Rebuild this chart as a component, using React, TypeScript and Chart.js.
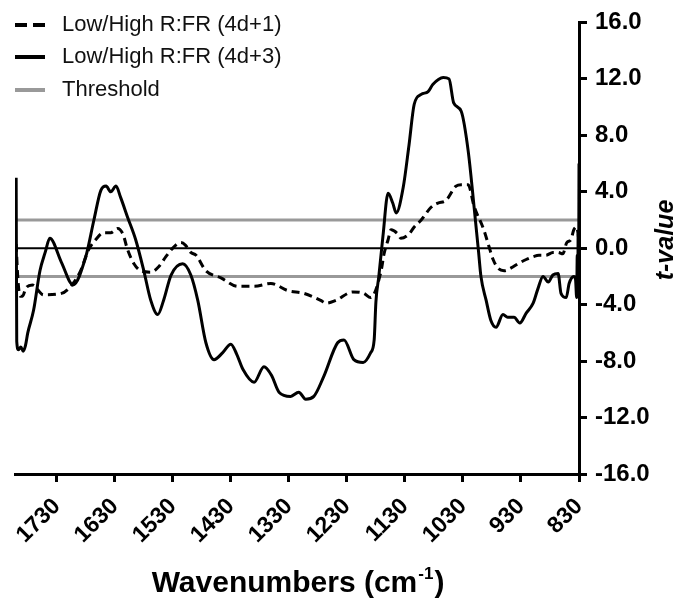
import React, { useEffect, useRef } from "react";
import { Chart, registerables } from "chart.js";

Chart.register(...registerables);

// ---- Data ----
const xTickValues = [1730, 1630, 1530, 1430, 1330, 1230, 1130, 1030, 930, 830];
const yTickValues = [-16, -12, -8, -4, 0, 4, 8, 12, 16];
const thresholdValue = 2;

const legendLabels = ["Low/High R:FR (4d+1)", "Low/High R:FR (4d+3)", "Threshold"];

// Low/High R:FR (4d+3) – solid
const wavenumbers4d3 = [
  1800, 1799, 1796, 1792, 1788, 1784, 1780, 1770, 1759, 1750,
  1742, 1722, 1702, 1680, 1666, 1654, 1645, 1637, 1628, 1620,
  1608, 1594, 1580, 1568, 1556, 1546, 1533, 1513, 1499, 1487,
  1473, 1459, 1444, 1430, 1420, 1409, 1390, 1373, 1360, 1347,
  1327, 1313, 1301, 1287, 1270, 1246, 1235, 1218, 1202, 1189,
  1183, 1180, 1175, 1168, 1159, 1151, 1145, 1133, 1123, 1114,
  1102, 1090, 1082, 1064, 1054, 1046, 1033, 1021, 1011, 1003,
  999, 990, 982, 973, 961, 953, 942, 932, 921, 909,
  901, 892, 883, 875, 866, 861, 852, 847, 839, 836,
  834, 833, 832, 831.5, 831, 830.5, 830,
];
const tValues4d3 = [
  5.0, -6.6, -7.2, -7.0, -7.3, -6.9, -6.0, -4.4, -1.6, -0.3,
  0.7, -1.0, -2.6, -0.6, 2.0, 4.1, 4.4, 4.0, 4.4, 3.6,
  2.2, 0.6, -1.6, -3.7, -4.7, -3.7, -1.9, -1.1, -1.9, -3.7,
  -6.7, -7.9, -7.4, -6.8, -7.5, -8.6, -9.5, -8.4, -9.0, -10.2,
  -10.5, -10.2, -10.7, -10.5, -9.1, -6.7, -6.5, -7.9, -8.1, -7.4,
  -6.5, -3.8, -2.0, 0.8, 3.9, 3.2, 2.5, 4.3, 7.3, 10.2,
  10.9, 11.1, 11.6, 12.1, 12.0, 10.3, 9.7, 6.9, 3.0, -0.3,
  -2.0, -3.7, -5.1, -5.6, -4.7, -4.9, -4.9, -5.3, -4.6, -3.9,
  -2.9, -2.0, -2.4, -1.9, -1.8, -3.2, -3.5, -2.5, -2.0, -2.2,
  -3.5, -0.5, -3.0, 1.0, -2.8, -1.0, 6.0,
];

// Low/High R:FR (4d+1) – dashed
const wavenumbers4d1 = [
  1800, 1797, 1793, 1789, 1783, 1772, 1753, 1722, 1702, 1689,
  1675, 1663, 1649, 1637, 1625, 1616, 1608, 1597, 1585, 1568,
  1554, 1542, 1528, 1516, 1508, 1499, 1490, 1473, 1447, 1418,
  1390, 1361, 1332, 1304, 1275, 1266, 1249, 1220, 1201, 1189,
  1171, 1166, 1159, 1154, 1142, 1137, 1123, 1114, 1102, 1085,
  1073, 1059, 1042, 1033, 1021, 1011, 994, 985, 978, 970,
  959, 947, 935, 921, 909, 899, 887, 875, 866, 858,
  851, 844, 839, 834, 830,
];
const tValues4d1 = [
  0.3, -2.2, -3.4, -3.4, -2.8, -2.6, -3.3, -3.2, -2.5, -1.6,
  -0.1, 0.6, 1.1, 1.1, 1.4, 1.0, -0.1, -1.1, -1.6, -1.7,
  -1.3, -0.6, 0.1, 0.4, 0.2, -0.3, -0.5, -1.6, -2.1, -2.7,
  -2.7, -2.5, -3.0, -3.2, -3.7, -3.9, -3.7, -3.1, -3.2, -3.5,
  -1.6, -0.4, 0.6, 1.3, 1.0, 0.7, 1.0, 1.5, 2.0, 2.9,
  3.2, 3.4, 4.4, 4.5, 4.5, 3.0, 1.3, 0.1, -0.8, -1.4,
  -1.6, -1.4, -1.1, -0.8, -0.6, -0.5, -0.5, -0.3, -0.3, -0.4,
  0.4, 0.6, 1.3, 1.5, 0.5,
];

const X_MIN = 830;
const X_MAX = 1802;

const FONT = '"Liberation Sans", Arial, Helvetica, sans-serif';

const zip = (xs: number[], ys: number[]) => xs.map((x, i) => ({ x, y: ys[i] }));

const legendPlugin = {
  id: "customLegend",
  afterDraw(chart: any) {
    const ctx = chart.ctx as CanvasRenderingContext2D;
    ctx.save();
    const rows = [
      { y: 25, color: "#000", dash: [12, 6] },
      { y: 57, color: "#000", dash: [] },
      { y: 90, color: "#999", dash: [] },
    ];
    rows.forEach((r, i) => {
      ctx.beginPath();
      ctx.setLineDash(r.dash);
      ctx.lineWidth = 4;
      ctx.strokeStyle = r.color;
      ctx.moveTo(15, r.y);
      ctx.lineTo(45, r.y);
      ctx.stroke();
      ctx.setLineDash([]);
      ctx.fillStyle = "#111";
      ctx.font = `22px ${FONT}`;
      ctx.textAlign = "left";
      ctx.textBaseline = "middle";
      ctx.fillText(legendLabels[i], 62, r.y);
    });

    // x-axis title with superscript
    const main = "Wavenumbers (cm";
    const sup = "-1";
    const close = ")";
    const mainFont = `bold 30px ${FONT}`;
    const supFont = `bold 17px ${FONT}`;
    ctx.textBaseline = "alphabetic";
    ctx.font = mainFont;
    const w1 = ctx.measureText(main).width;
    const w3 = ctx.measureText(close).width;
    ctx.font = supFont;
    const w2 = ctx.measureText(sup).width;
    const total = w1 + w2 + w3 + 2;
    let sx = 298 - total / 2;
    const base = 592;
    ctx.fillStyle = "#000";
    ctx.font = mainFont;
    ctx.fillText(main, sx, base);
    sx += w1 + 1;
    ctx.font = supFont;
    ctx.fillText(sup, sx, base - 13);
    sx += w2 + 1;
    ctx.font = mainFont;
    ctx.fillText(close, sx, base);

    // y-axis title
    ctx.translate(673, 240);
    ctx.rotate(-Math.PI / 2);
    ctx.font = `italic bold 25px ${FONT}`;
    ctx.textAlign = "center";
    ctx.fillText("t-value", 0, 0);
    ctx.restore();
  },
};

export default function App() {
  const canvasRef = useRef<HTMLCanvasElement | null>(null);

  useEffect(() => {
    const canvas = canvasRef.current;
    if (!canvas) return;
    const chart = new Chart(canvas, {
      type: "line",
      data: {
        datasets: [
          {
            label: legendLabels[1],
            data: zip(wavenumbers4d3, tValues4d3),
            borderColor: "#000",
            borderWidth: 3,
            pointRadius: 0,
            cubicInterpolationMode: "monotone",
            fill: false,
          },
          {
            label: legendLabels[0],
            data: zip(wavenumbers4d1, tValues4d1),
            borderColor: "#000",
            borderWidth: 3,
            borderDash: [8, 5],
            pointRadius: 0,
            cubicInterpolationMode: "monotone",
            fill: false,
          },
          {
            label: "zero",
            data: [
              { x: X_MAX, y: 0 },
              { x: X_MIN, y: 0 },
            ],
            borderColor: "#000",
            borderWidth: 2,
            pointRadius: 0,
          },
          {
            label: legendLabels[2],
            data: [
              { x: X_MAX, y: thresholdValue },
              { x: X_MIN, y: thresholdValue },
            ],
            borderColor: "#999",
            borderWidth: 3,
            pointRadius: 0,
          },
          {
            label: legendLabels[2] + " low",
            data: [
              { x: X_MAX, y: -thresholdValue },
              { x: X_MIN, y: -thresholdValue },
            ],
            borderColor: "#999",
            borderWidth: 3,
            pointRadius: 0,
          },
        ],
      },
      options: {
        responsive: false,
        animation: false,
        layout: { padding: { left: 15, top: 22, right: 0, bottom: 0 } },
        plugins: {
          legend: { display: false },
          tooltip: { enabled: false },
          title: { display: false },
        },
        scales: {
          x: {
            type: "linear",
            reverse: true,
            min: X_MIN,
            max: X_MAX,
            position: "bottom",
            afterBuildTicks: (s: any) => {
              s.ticks = xTickValues.map((v) => ({ value: v }));
            },
            afterFit: (s: any) => {
              s.height = 126;
            },
            ticks: {
              autoSkip: false,
              minRotation: 45,
              maxRotation: 45,
              padding: 11,
              color: "#000",
              font: { family: FONT, size: 23, weight: "bold" },
              callback: (v: any) => String(v),
            },
            grid: {
              drawOnChartArea: false,
              drawTicks: true,
              tickLength: 8,
              color: "#000",
              lineWidth: 3,
            },
            border: { display: true, color: "#000", width: 3 },
          },
          y: {
            type: "linear",
            position: "right",
            min: -16,
            max: 16,
            afterBuildTicks: (s: any) => {
              s.ticks = yTickValues.map((v) => ({ value: v }));
            },
            afterFit: (s: any) => {
              s.width = 97;
            },
            ticks: {
              padding: 8,
              color: "#000",
              font: { family: FONT, size: 24, weight: "bold" },
              callback: (v: any) => Number(v).toFixed(1),
            },
            grid: {
              drawOnChartArea: false,
              drawTicks: true,
              tickLength: 8,
              color: "#000",
              lineWidth: 3,
            },
            border: { display: true, color: "#000", width: 3 },
          },
        },
      } as any,
      plugins: [legendPlugin],
    });
    return () => chart.destroy();
  }, []);

  return (
    <div style={{ position: "absolute", left: 0, top: 0, width: 676, height: 600, background: "#fff" }}>
      <canvas ref={canvasRef} width={676} height={600} style={{ display: "block" }} />
    </div>
  );
}
